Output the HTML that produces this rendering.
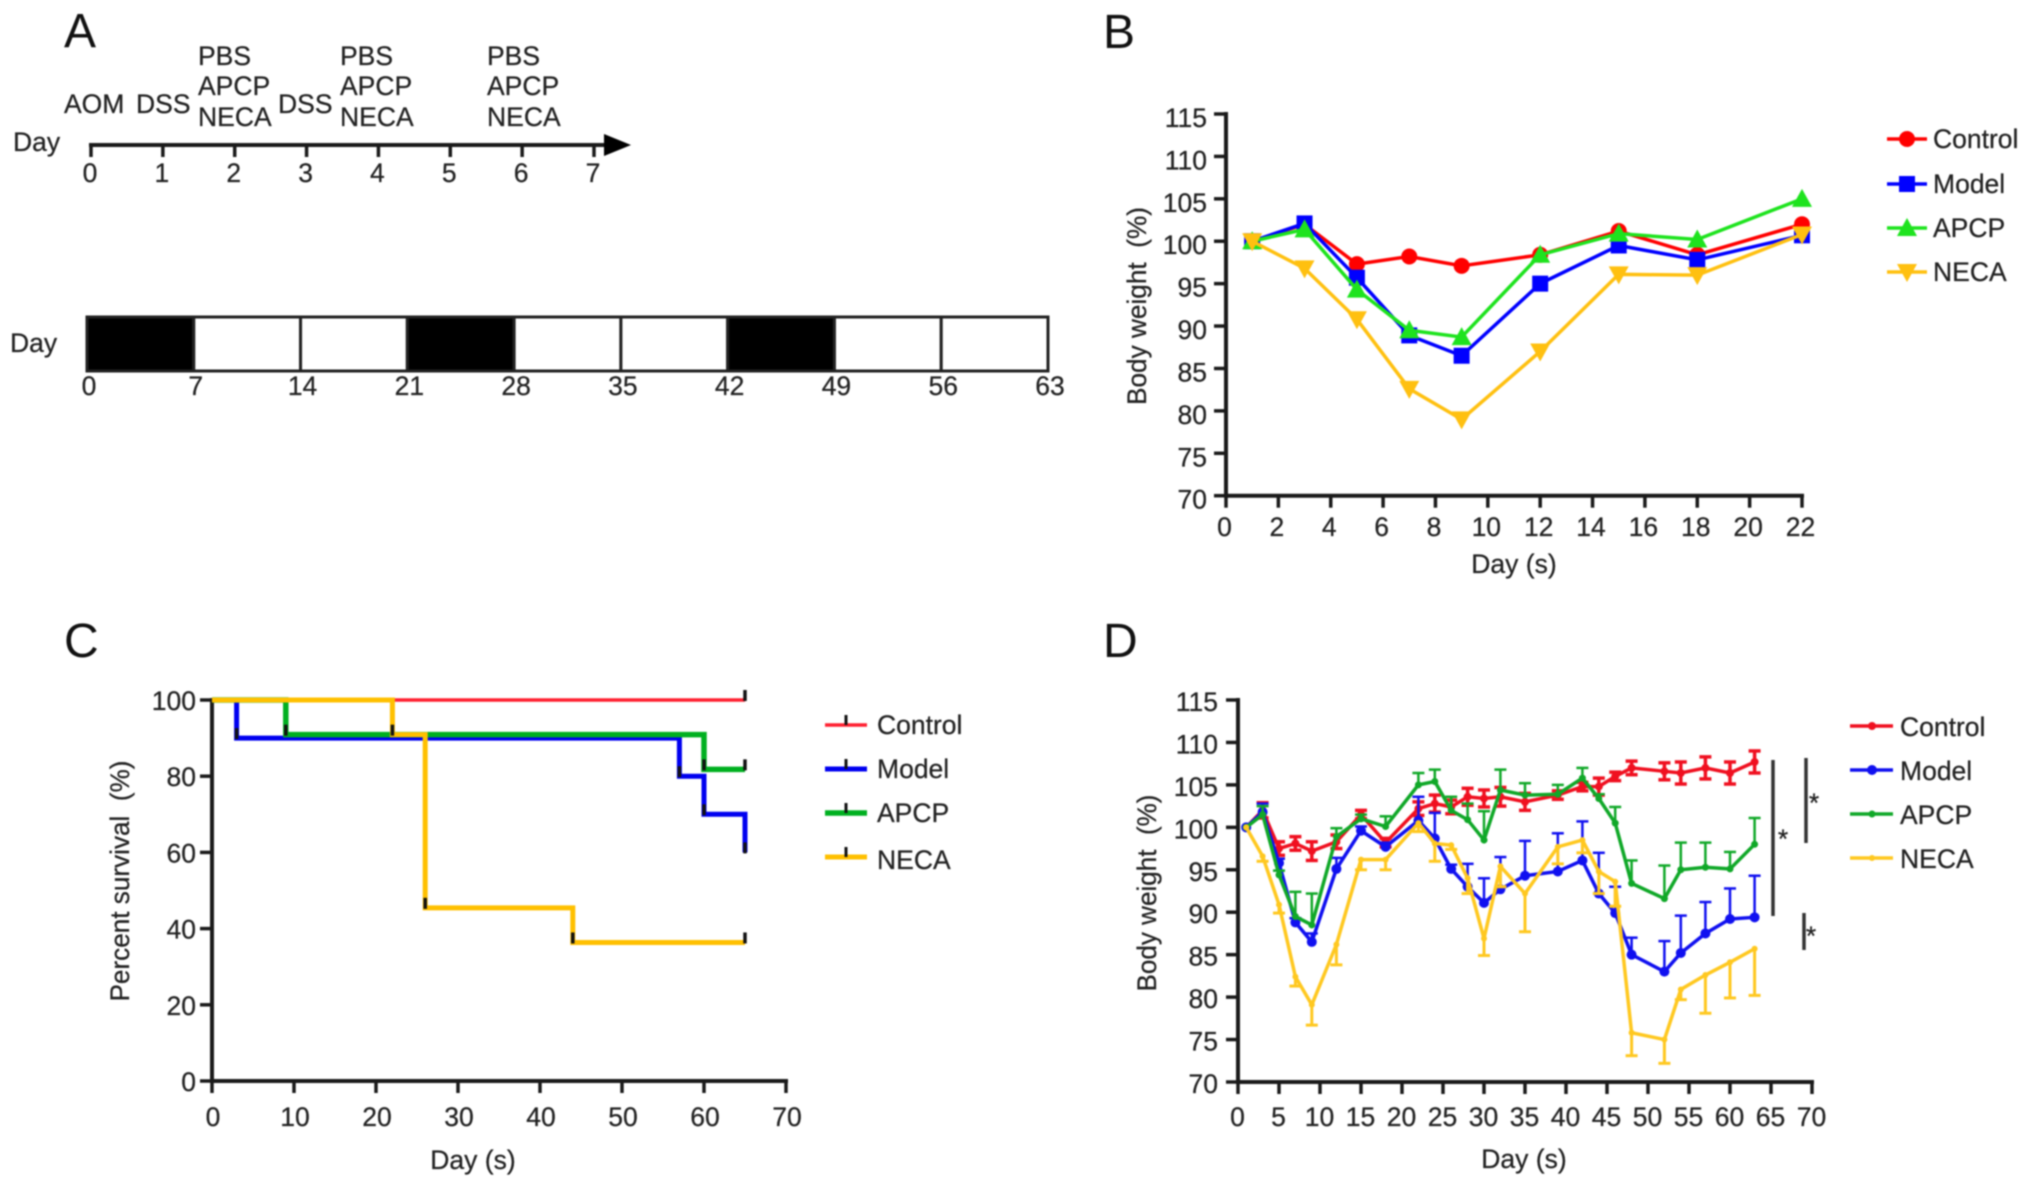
<!DOCTYPE html>
<html lang="en">
<head>
<meta charset="utf-8">
<title>Body weight and survival figure</title>
<style>
html,body{margin:0;padding:0;background:#fff;width:2031px;height:1187px;overflow:hidden}
svg{display:block;filter:blur(.75px)}
text{font-family:"Liberation Sans",sans-serif;font-size:26.5px;fill:#222;stroke:#222;stroke-width:.25px}
.letter{font-size:48px;fill:#111;stroke:none}
</style>
</head>
<body>
<svg id="fig" width="2031" height="1187" viewBox="0 0 2031 1187">
  <rect x="0" y="0" width="2031" height="1187" fill="#fff"/>

  <text class="letter" x="64" y="47">A</text>
  <text class="letter" x="1103" y="48">B</text>
  <text class="letter" x="64" y="657">C</text>
  <text class="letter" x="1103" y="657">D</text>

  <g>
    <text x="64" y="113">AOM</text>
    <text x="136" y="113">DSS</text>
    <text x="278" y="113">DSS</text>
    <text x="198" y="65">PBS</text>
    <text x="198" y="95">APCP</text>
    <text x="198" y="126">NECA</text>
    <text x="340" y="65">PBS</text>
    <text x="340" y="95">APCP</text>
    <text x="340" y="126">NECA</text>
    <text x="487" y="65">PBS</text>
    <text x="487" y="95">APCP</text>
    <text x="487" y="126">NECA</text>
    <text x="13" y="151">Day</text>
    <text x="10" y="352">Day</text>
  </g>
  <line x1="89" y1="145" x2="606" y2="145" stroke="#1a1a1a" stroke-width="4"/>
  <polygon points="604,134 631,145 604,156" fill="#000"/>
</svg>
<script>
// ---------- Panel A data ----------
const timelineTicks = [0, 1, 2, 3, 4, 5, 6, 7];
const scheduleTicks = [0, 7, 14, 21, 28, 35, 42, 49, 56, 63];
const scheduleBlack = [0, 21, 42];

// ---------- Panel B data ----------
const daysB = [1, 3, 5, 7, 9, 12, 15, 18, 22];
const controlB = [100, 102, 97.3, 98.2, 97.1, 98.4, 101.2, 98.4, 102];
const modelB = [100, 102.1, 95.7, 88.9, 86.5, 95, 99.5, 97.8, 100.7];
const apcpB = [100, 101.4, 94.3, 89.5, 88.7, 98.4, 100.9, 100.2, 105];
const necaB = [100, 96.8, 90.8, 82.6, 79, 87, 96.1, 96, 100.8];
const xTicksB = [0, 2, 4, 6, 8, 10, 12, 14, 16, 18, 20, 22];
const yTicksB = [70, 75, 80, 85, 90, 95, 100, 105, 110, 115];

// ---------- Panel C data ----------
const survControlDays = [0, 65];
const survControlPct = [100, 100];
const survModelDays = [0, 3, 57, 60, 65];
const survModelPct = [100, 90, 80, 70, 60];
const survApcpDays = [0, 9, 60, 65];
const survApcpPct = [100, 90.9, 81.8, 81.8];
const survNecaDays = [0, 22, 26, 44, 65];
const survNecaPct = [100, 90.9, 45.45, 36.36, 36.36];
const xTicksC = [0, 10, 20, 30, 40, 50, 60, 70];
const yTicksC = [0, 20, 40, 60, 80, 100];

// ---------- Panel D data ----------
const daysD = [1, 3, 5, 7, 9, 12, 15, 18, 22, 24, 26, 28, 30, 32, 35, 39, 42, 44, 46, 48, 52, 54, 57, 60, 63];
const controlD = [100, 102, 97.5, 98.1, 97.2, 98.3, 101.5, 98.2, 102.2, 102.8, 102.4, 103.6, 103.4, 103.6, 103, 103.8, 104.8, 104.8, 106, 107, 106.6, 106.4, 107, 106.4, 107.7];
const controlErrD = [0, 0.9, 0.8, 0.8, 1.1, 0.8, 0.5, 0.5, 0.8, 1, 0.8, 1, 1, 1.1, 1, 0.5, 0.5, 1, 0.5, 0.8, 1, 1.3, 1.3, 1.3, 1.3];
const modelD = [100, 101.8, 95.8, 88.8, 86.5, 95.1, 99.6, 97.7, 100.8, 98.7, 95.1, 93, 91.1, 92.7, 94.3, 94.8, 96.1, 92.2, 89.9, 85, 83, 85.2, 87.5, 89.2, 89.4];
const modelErrD = [0, 1, 0.5, 0.5, 1, 1.3, 0.5, 0.5, 2.8, 3, 0.5, 2.7, 2.9, 3.8, 4.1, 4.5, 4.6, 4.8, 3.1, 2, 3.6, 4.4, 3.7, 3.6, 4.9];
const apcpD = [100, 101.5, 94.4, 89.5, 88.5, 98.9, 101, 100.1, 105, 105.4, 102, 100.9, 98.5, 104.4, 103.8, 103.9, 105.8, 103.4, 100.5, 93.4, 91.6, 95, 95.3, 95.1, 98];
const apcpErrD = [0, 1, 0.5, 2.9, 3.7, 1, 0.5, 1.2, 1.4, 1.4, 1.6, 1.9, 3.4, 2.4, 1.4, 1.1, 1.2, 0.5, 1.9, 2.7, 3.9, 3.2, 2.9, 2, 3.1];
const necaD = [100, 96.6, 90.9, 82.4, 79.1, 86.2, 96.2, 96.2, 100.5, 98.1, 97.9, 94, 86.9, 95.4, 92.2, 97.7, 98.5, 94.8, 93.6, 75.8, 75, 80.9, 82.6, 84.1, 85.7];
const necaErrD = [0, 0.6, 1, 1.1, 2.4, 2.4, 1.2, 1.2, 1, 2.1, 0.5, 1.8, 2, 2.4, 4.5, 2, 1.5, 2.6, 2.9, 2.7, 2.8, 1.2, 4.5, 4.2, 5.5];
const xTicksD = [0, 5, 10, 15, 20, 25, 30, 35, 40, 45, 50, 55, 60, 65, 70];
const yTicksD = [70, 75, 80, 85, 90, 95, 100, 105, 110, 115];

const seriesNames = ['Control', 'Model', 'APCP', 'NECA'];

const svg = document.getElementById('fig');

function make(tag, attrs, parent) {
  const node = document.createElementNS(svg.namespaceURI, tag);
  for (const k in attrs) node.setAttribute(k, attrs[k]);
  parent.appendChild(node);
  return node;
}
function linear(d0, d1, r0, r1) {
  return function (v) { return r0 + (v - d0) * (r1 - r0) / (d1 - d0); };
}
function slug(s) { return s.toLowerCase(); }

const AXIS = '#1a1a1a';

function drawAxes(id, x, y, xTicks, yTicks, opt) {
  const g = make('g', {}, svg);
  
  
  const xMin = xTicks[0], xMax = xTicks[xTicks.length - 1];
  const yMin = yTicks[0], yMax = yTicks[yTicks.length - 1];
  const xAxis = make('line', { x1: x(xMin) - 1, x2: x(xMax) + 2, y1: y(yMin), y2: y(yMin), stroke: AXIS, 'stroke-width': 4 }, g);
  
  
  const yAxis = make('line', { x1: x(xMin), x2: x(xMin), y1: y(yMax) - 2, y2: y(yMin) + 2, stroke: AXIS, 'stroke-width': 4 }, g);
  
  
  xTicks.forEach(function (t) {
    const tick = make('line', { x1: x(t), x2: x(t), y1: y(yMin), y2: y(yMin) + 12, stroke: AXIS, 'stroke-width': 3.5 }, g);
    
    
    const label = make('text', { x: x(t) + opt.xLabelDx, y: opt.xLabelY, 'text-anchor': 'middle' }, g);
    label.textContent = t;
    
    
  });
  yTicks.forEach(function (t) {
    const tick = make('line', { x1: x(xMin) - 12, x2: x(xMin), y1: y(t), y2: y(t), stroke: AXIS, 'stroke-width': 3.5 }, g);
    
    
    const label = make('text', { x: opt.yLabelX, y: y(t) + opt.yLabelDy, 'text-anchor': 'end' }, g);
    label.textContent = t;
    
    
  });
  const xt = make('text', { x: opt.xTitleX, y: opt.xTitleY, 'text-anchor': 'middle' }, g);
  xt.textContent = 'Day (s)';
  
  
  const yt = make('text', { x: opt.yTitleX, y: opt.yTitleY, 'text-anchor': 'middle', textLength: opt.yTitleLen, lengthAdjust: 'spacingAndGlyphs', transform: 'rotate(-90 ' + opt.yTitleX + ' ' + opt.yTitleY + ')' }, g);
  yt.textContent = opt.yTitle;
  
  
}

function marker(parent, kind, cx, cy, color, s) {
  if (kind === 'circle') return make('circle', { cx: cx, cy: cy, r: s, fill: color }, parent);
  if (kind === 'square') return make('rect', { x: cx - s, y: cy - s, width: 2 * s, height: 2 * s, fill: color }, parent);
  if (kind === 'up') return make('polygon', { points: (cx - s) + ',' + (cy + s * 0.8) + ' ' + (cx + s) + ',' + (cy + s * 0.8) + ' ' + cx + ',' + (cy - s) }, parent);
  return make('polygon', { points: (cx - s) + ',' + (cy - s * 0.8) + ' ' + (cx + s) + ',' + (cy - s * 0.8) + ' ' + cx + ',' + (cy + s) }, parent);
}

function polyPoints(xs, ys, x, y) {
  return xs.map(function (d, i) { return x(d) + ',' + y(ys[i]); }).join(' ');
}

// ---------- Panel A drawing ----------
(function () {
  const tx = linear(0, 7, 91, 594);
  const g = make('g', {}, svg);
  
  
  timelineTicks.forEach(function (t) {
    const tick = make('line', { x1: tx(t), x2: tx(t), y1: 145, y2: 157, stroke: AXIS, 'stroke-width': 3.5 }, g);
    
    
    const label = make('text', { x: tx(t) - 1, y: 182, 'text-anchor': 'middle' }, g);
    label.textContent = t;
    
    
  });

  const sx = linear(0, 63, 87, 1048);
  const s = make('g', {}, svg);
  
  
  for (let i = 0; i < scheduleTicks.length - 1; i++) {
    const d = scheduleTicks[i];
    const black = scheduleBlack.indexOf(d) >= 0;
    const cell = make('rect', { x: sx(d), y: 317, width: sx(scheduleTicks[i + 1]) - sx(d), height: 54, fill: black ? '#000' : '#fff', stroke: '#222', 'stroke-width': 3 }, s);
    
    
  }
  scheduleTicks.forEach(function (t) {
    const label = make('text', { x: sx(t) + 2, y: 395, 'text-anchor': 'middle' }, s);
    label.textContent = t;
    
    
  });
})();

// ---------- Panel B drawing ----------
(function () {
  const x = linear(0, 22, 1226, 1802);
  const y = linear(70, 115, 495.7, 114);
  drawAxes('panel-b', x, y, xTicksB, yTicksB, {
    xLabelDx: -1.5, xLabelY: 536, yLabelX: 1207, yLabelDy: 13, xTitleX: 1514, xTitleY: 573,
    yTitleX: 1146, yTitleY: 306, yTitleLen: 198, yTitle: 'Body weight\u00a0\u00a0(%)'
  });
  const colors = ['#ff0000', '#0000ff', '#1ee31e', '#ffc010'];
  const kinds = ['circle', 'square', 'up', 'down'];
  const sizes = [8, 8, 10, 10];
  const values = [controlB, modelB, apcpB, necaB];
  const legendY = [139, 184, 228, 272];
  values.forEach(function (vals, i) {
    const g = make('g', {}, svg);
    
    
    const line = make('polyline', { points: polyPoints(daysB, vals, x, y), fill: 'none', stroke: colors[i], 'stroke-width': 3.5 }, g);
    
    
    daysB.forEach(function (d, j) {
      const m = marker(g, kinds[i], x(d), y(vals[j]), colors[i], sizes[i]);
      m.setAttribute('fill', colors[i]);
      
      
    });
    const lg = make('g', {}, svg);
    
    
    const ll = make('line', { x1: 1887, x2: 1927, y1: legendY[i], y2: legendY[i], stroke: colors[i], 'stroke-width': 3.5 }, lg);
    
    
    const lm = marker(lg, kinds[i], 1907, legendY[i], colors[i], sizes[i]);
    lm.setAttribute('fill', colors[i]);
    
    
    const lt = make('text', { x: 1933, y: legendY[i] + 9 }, lg);
    lt.textContent = seriesNames[i];
    
    
  });
})();

// ---------- Panel C drawing ----------
(function () {
  const x = linear(0, 70, 212, 786);
  const y = linear(0, 100, 1081, 700);
  drawAxes('panel-c', x, y, xTicksC, yTicksC, {
    xLabelDx: 1, xLabelY: 1126, yLabelX: 196, yLabelDy: 10, xTitleX: 473, xTitleY: 1169,
    yTitleX: 129, yTitleY: 881, yTitleLen: 241, yTitle: 'Percent survival\u00a0\u00a0(%)'
  });
  const colors = ['#ff2030', '#0000f0', '#00b020', '#ffc000'];
  const widths = [3.5, 5, 5.5, 5];
  const dayArrays = [survControlDays, survModelDays, survApcpDays, survNecaDays];
  const pctArrays = [survControlPct, survModelPct, survApcpPct, survNecaPct];
  const legendY = [725, 769, 813, 857];
  dayArrays.forEach(function (days, i) {
    const pct = pctArrays[i];
    const g = make('g', {}, svg);
    
    
    let dPath = 'M' + x(days[0]) + ' ' + y(pct[0]);
    for (let j = 1; j < days.length; j++) {
      dPath += 'H' + x(days[j]) + 'V' + y(pct[j]);
    }
    const path = make('path', { d: dPath, fill: 'none', stroke: colors[i], 'stroke-width': widths[i] }, g);
    
    
    for (let j = 1; j < days.length; j++) {
      const c = make('line', { x1: x(days[j]), x2: x(days[j]), y1: y(pct[j]) - 10, y2: y(pct[j]) + 1, stroke: '#111', 'stroke-width': 3.5 }, g);
      
      
    }
    const lg = make('g', {}, svg);
    
    
    const ll = make('line', { x1: 825, x2: 867, y1: legendY[i], y2: legendY[i], stroke: colors[i], 'stroke-width': widths[i] }, lg);
    
    
    const lk = make('line', { x1: 846, x2: 846, y1: legendY[i] - 10, y2: legendY[i], stroke: '#111', 'stroke-width': 3 }, lg);
    
    
    const lt = make('text', { x: 877, y: legendY[i] + 9 + (i === 3 ? 3 : 0) }, lg);
    lt.textContent = seriesNames[i];
    
    
  });
})();

// ---------- Panel D drawing ----------
(function () {
  const x = linear(0, 70, 1238, 1812);
  const y = linear(70, 115, 1082, 700);
  drawAxes('panel-d', x, y, xTicksD, yTicksD, {
    xLabelDx: -0.5, xLabelY: 1126, yLabelX: 1218, yLabelDy: 11, xTitleX: 1524, xTitleY: 1168,
    yTitleX: 1156, yTitleY: 893, yTitleLen: 197, yTitle: 'Body weight\u00a0\u00a0(%)'
  });
  const colors = ['#f01020', '#1010f0', '#10a828', '#ffc820'];
  const values = [controlD, modelD, apcpD, necaD];
  const errors = [controlErrD, modelErrD, apcpErrD, necaErrD];
  const radii = [4, 5, 3.5, 3];
  const lineWidth = [3.5, 3.5, 3.5, 3.5];
  const errWidth = [3.5, 2.5, 2.5, 3];
  const showUp = [true, true, true, false];
  const showDown = [true, false, false, true];
  const legendY = [726, 770, 814, 858];
  values.forEach(function (vals, i) {
    const g = make('g', {}, svg);
    
    
    daysD.forEach(function (d, j) {
      const e = errors[i][j];
      if (!e) return;
      const top = showUp[i] ? y(vals[j] + e) : y(vals[j]);
      const bot = showDown[i] ? y(vals[j] - e) : y(vals[j]);
      const bar = make('line', { x1: x(d), x2: x(d), y1: top, y2: bot, stroke: colors[i], 'stroke-width': errWidth[i] }, g);
      
      
      if (showUp[i]) {
        const capT = make('line', { x1: x(d) - 6, x2: x(d) + 6, y1: top, y2: top, stroke: colors[i], 'stroke-width': errWidth[i] }, g);
        
        
      }
      if (showDown[i]) {
        const capB = make('line', { x1: x(d) - 6, x2: x(d) + 6, y1: bot, y2: bot, stroke: colors[i], 'stroke-width': errWidth[i] }, g);
        
        
      }
    });
    const line = make('polyline', { points: polyPoints(daysD, vals, x, y), fill: 'none', stroke: colors[i], 'stroke-width': lineWidth[i] }, g);
    
    
    daysD.forEach(function (d, j) {
      const p = make('circle', { cx: x(d), cy: y(vals[j]), r: radii[i], fill: colors[i] }, g);
      
      
    });
    const lg = make('g', {}, svg);
    
    
    const ll = make('line', { x1: 1850, x2: 1893, y1: legendY[i], y2: legendY[i], stroke: colors[i], 'stroke-width': 3.5 }, lg);
    
    
    const lm = make('circle', { cx: 1872, cy: legendY[i], r: radii[i], fill: colors[i] }, lg);
    
    
    const lt = make('text', { x: 1900, y: legendY[i] + 10 }, lg);
    lt.textContent = seriesNames[i];
    
    
  });

  // significance brackets
  const sig = make('g', {}, svg);
  
  
  [[1773, 760, 916, 1783, 848], [1806, 758, 843, 1814, 812], [1804, 913, 950, 1811, 945]].forEach(function (b) {
    const l = make('line', { x1: b[0], x2: b[0], y1: b[1], y2: b[2], stroke: '#333', 'stroke-width': 3.5 }, sig);
    
    
    const t = make('text', { x: b[3], y: b[4], 'text-anchor': 'middle', 'font-size': '22' }, sig);
    t.textContent = '*';
    
    
  });
})();
</script>
</body>
</html>
